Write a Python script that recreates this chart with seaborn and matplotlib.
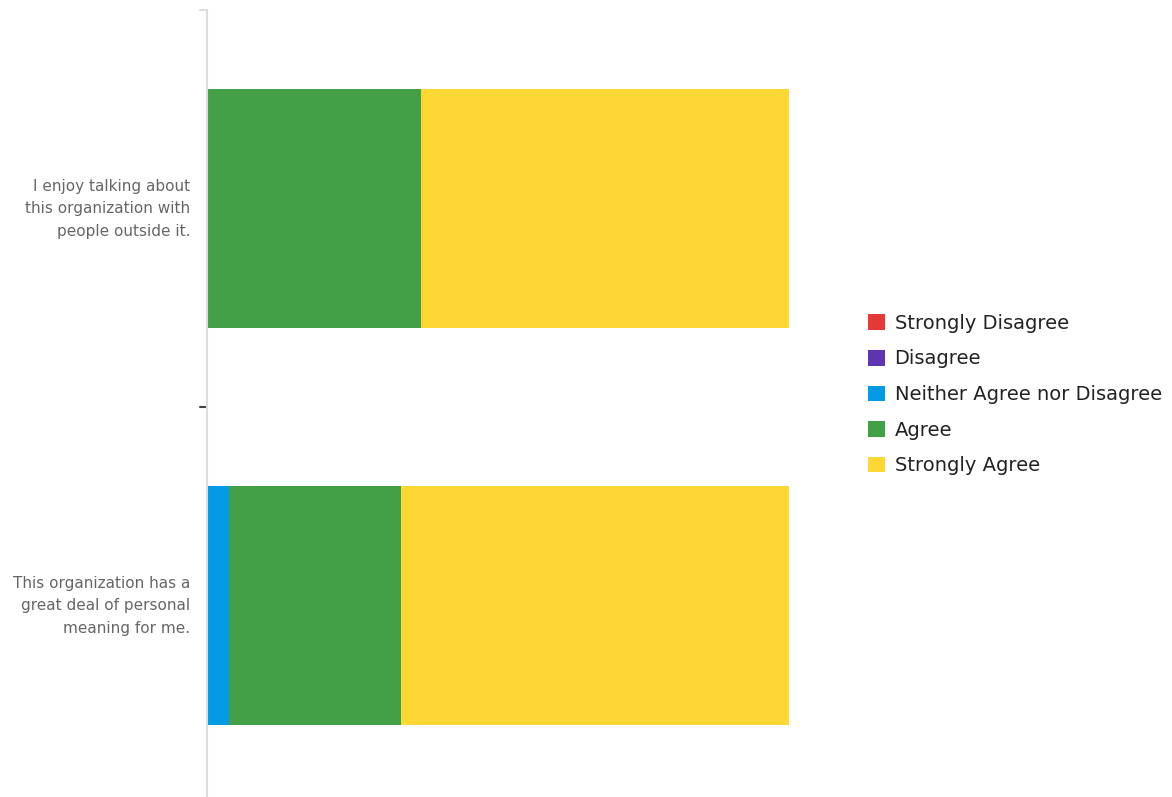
import numpy as np
import pandas as pd
import seaborn as sns
import matplotlib.pyplot as plt
from matplotlib.patches import Patch

questions = ['I enjoy talking about\nthis organization with\npeople outside it.',
             'This organization has a\ngreat deal of personal\nmeaning for me.']
responses = ['Strongly Disagree', 'Disagree', 'Neither Agree nor Disagree', 'Agree', 'Strongly Agree']
strongly_disagree = [0, 0]
disagree = [0, 0]
neither = [0, 1]
agree = [7, 8]
strongly_agree = [12, 18]
colors = ['#E53935', '#5E35B1', '#039BE5', '#43A047', '#FDD835']

df = pd.DataFrame({'question': questions,
                   'Strongly Disagree': strongly_disagree,
                   'Disagree': disagree,
                   'Neither Agree nor Disagree': neither,
                   'Agree': agree,
                   'Strongly Agree': strongly_agree})
totals = df[responses].sum(axis=1)
shares = df[responses].div(totals, axis=0)
cum = shares.cumsum(axis=1)
cum['question'] = df['question']

sns.set_style('white')
plt.rcParams['font.family'] = ['DejaVu Sans']

fig = plt.figure(figsize=(11.72, 7.97), dpi=100)
ax = fig.add_axes([207 / 1172, -7 / 797, 582 / 1172, 794 / 797])

# draw cumulative widths from the last category back to the first
for resp, col in reversed(list(zip(responses, colors))):
    sns.barplot(data=cum, x=resp, y='question', color=col, orient='h',
                width=0.6, saturation=1, linewidth=0, ax=ax)

ax.set_xlim(0, 1)
ax.set_ylim(1.5, -0.5)
ax.set_xlabel('')
ax.set_ylabel('')
ax.set_xticks([])
for s in ['top', 'right', 'bottom']:
    ax.spines[s].set_visible(False)
ax.spines['left'].set_color('#dddddd')
ax.spines['left'].set_linewidth(1.5)

# category boundary ticks: light at top, dark between the bars
ax.set_yticks([])
trans = ax.get_yaxis_transform()
ax.plot([-0.012, 0], [-0.5, -0.5], color='#dddddd', lw=1.5, transform=trans, clip_on=False)
ax.plot([-0.012, 0], [0.5, 0.5], color='#444444', lw=1.5, transform=trans, clip_on=False)

ax.set_yticks([-0.012, 0.988], minor=True)
ax.set_yticklabels(questions, minor=True, fontsize=11, color='#666666',
                   linespacing=1.6, ha='right')
ax.tick_params(axis='y', which='minor', length=0, pad=12)

handles = [Patch(facecolor=c, edgecolor='none', label=r) for r, c in zip(responses, colors)]
fig.legend(handles=handles, loc='center left', bbox_to_anchor=(0.726, 0.505),
           frameon=False, fontsize=14, handlelength=0.85, handleheight=0.85,
           handletextpad=0.5, labelspacing=0.85, labelcolor='#222222')

fig.savefig('out.png', dpi=100)
